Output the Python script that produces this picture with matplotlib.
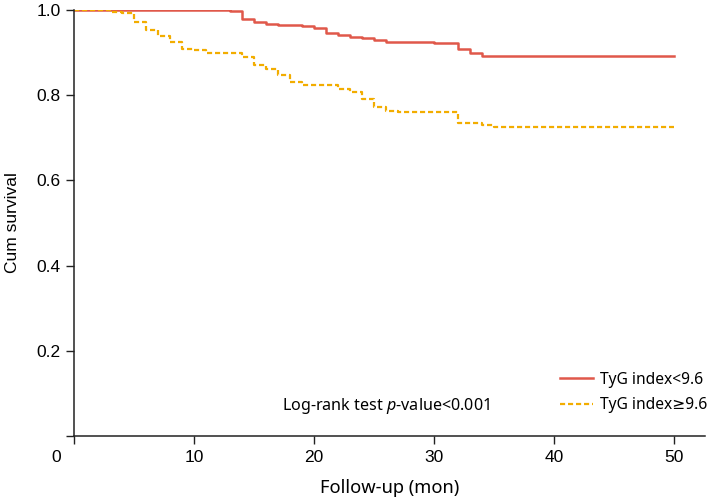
"""Kaplan-Meier style survival curves by TyG index group."""
import matplotlib
matplotlib.use("Agg")
import matplotlib.pyplot as plt

# follow-up times (months) and cumulative survival
low_t = [0, 13, 14, 15, 16, 17, 19, 20, 21, 22, 23, 24, 25, 26, 30, 32, 33, 34, 50]
low_s = [1.0, 0.997, 0.979, 0.973, 0.967, 0.965, 0.962, 0.958, 0.945, 0.941,
         0.937, 0.934, 0.929, 0.925, 0.922, 0.908, 0.900, 0.893, 0.893]
high_t = [0, 3, 4, 5, 6, 7, 8, 9, 10, 11, 14, 15, 16, 17, 18, 19, 22, 23, 24,
          25, 26, 27, 32, 34, 35, 50]
high_s = [1.0, 0.995, 0.992, 0.972, 0.953, 0.940, 0.924, 0.908, 0.905, 0.900,
          0.890, 0.871, 0.861, 0.847, 0.832, 0.824, 0.814, 0.808, 0.791, 0.773,
          0.764, 0.761, 0.735, 0.730, 0.726, 0.726]
labels = ["TyG index<9.6", "TyG index\u22659.6"]
xticks = [0, 10, 20, 30, 40, 50]
yticks = [0.2, 0.4, 0.6, 0.8, 1.0]

RED, ORANGE = "#e0584a", "#f2ad00"
SANS = ["Noto Sans", "DejaVu Sans"]
plt.rcParams["mathtext.fontset"] = "custom"
plt.rcParams["mathtext.rm"] = "Noto Sans"
plt.rcParams["mathtext.it"] = "Noto Sans:italic"

fig = plt.figure(figsize=(7.07, 5.0), dpi=100)
ax = fig.add_axes([74 / 707, 64 / 500, 631 / 707, 426 / 500])

ax.step(low_t, low_s, where="post", color=RED, lw=1.8, label=labels[0])
ax.step(high_t, high_s, where="post", color=ORANGE, lw=1.6,
        dashes=(2.3, 1.3), label=labels[1])

ax.set_xlim(0, 52.6)
ax.set_ylim(0, 1.0)
for s in ("top", "right"):
    ax.spines[s].set_visible(False)
for s in ("left", "bottom"):
    ax.spines[s].set_linewidth(1.1)
    ax.spines[s].set_color("#222222")

ax.set_xticks(xticks)
ax.set_xticklabels([""] + [str(v) for v in xticks[1:]], fontfamily="Liberation Sans", fontsize=12.5)
ax.set_yticks([0] + yticks)
ax.set_yticklabels([""] + [f"{v:.1f}" for v in yticks], fontfamily="Liberation Sans", fontsize=12.5)
ax.tick_params(axis="x", length=5.5, width=1.0, pad=4.8, color="#222222")
ax.tick_params(axis="y", length=5.5, width=1.0, pad=4.3, color="#222222")
ax.annotate("0", xy=(0, 0), xytext=(-18, -21), textcoords="offset pixels",
            ha="center", va="center", fontfamily="Liberation Sans", fontsize=12.5,
            annotation_clip=False)

ax.set_ylabel("Cum survival", fontfamily="Liberation Sans", fontsize=12.5)
ax.yaxis.set_label_coords(-0.086, 0.5)
ax.set_xlabel("Follow-up (mon)", fontfamily="Noto Sans", fontsize=13.2, va="top")
ax.xaxis.set_label_coords(0.5, -0.1)

ax.text(17.3, 0.070, "Log-rank test $p$-value<0.001", fontfamily=SANS,
        fontsize=11.6, ha="left", va="center")

ax.legend(loc="center left", bbox_to_anchor=((560 - 74) / 631, 0.102), frameon=False,
          prop={"family": SANS, "size": 11.2}, handlelength=2.1,
          handletextpad=0.5, labelspacing=0.62, borderpad=0, borderaxespad=0)

fig.savefig("out.png", dpi=100)
